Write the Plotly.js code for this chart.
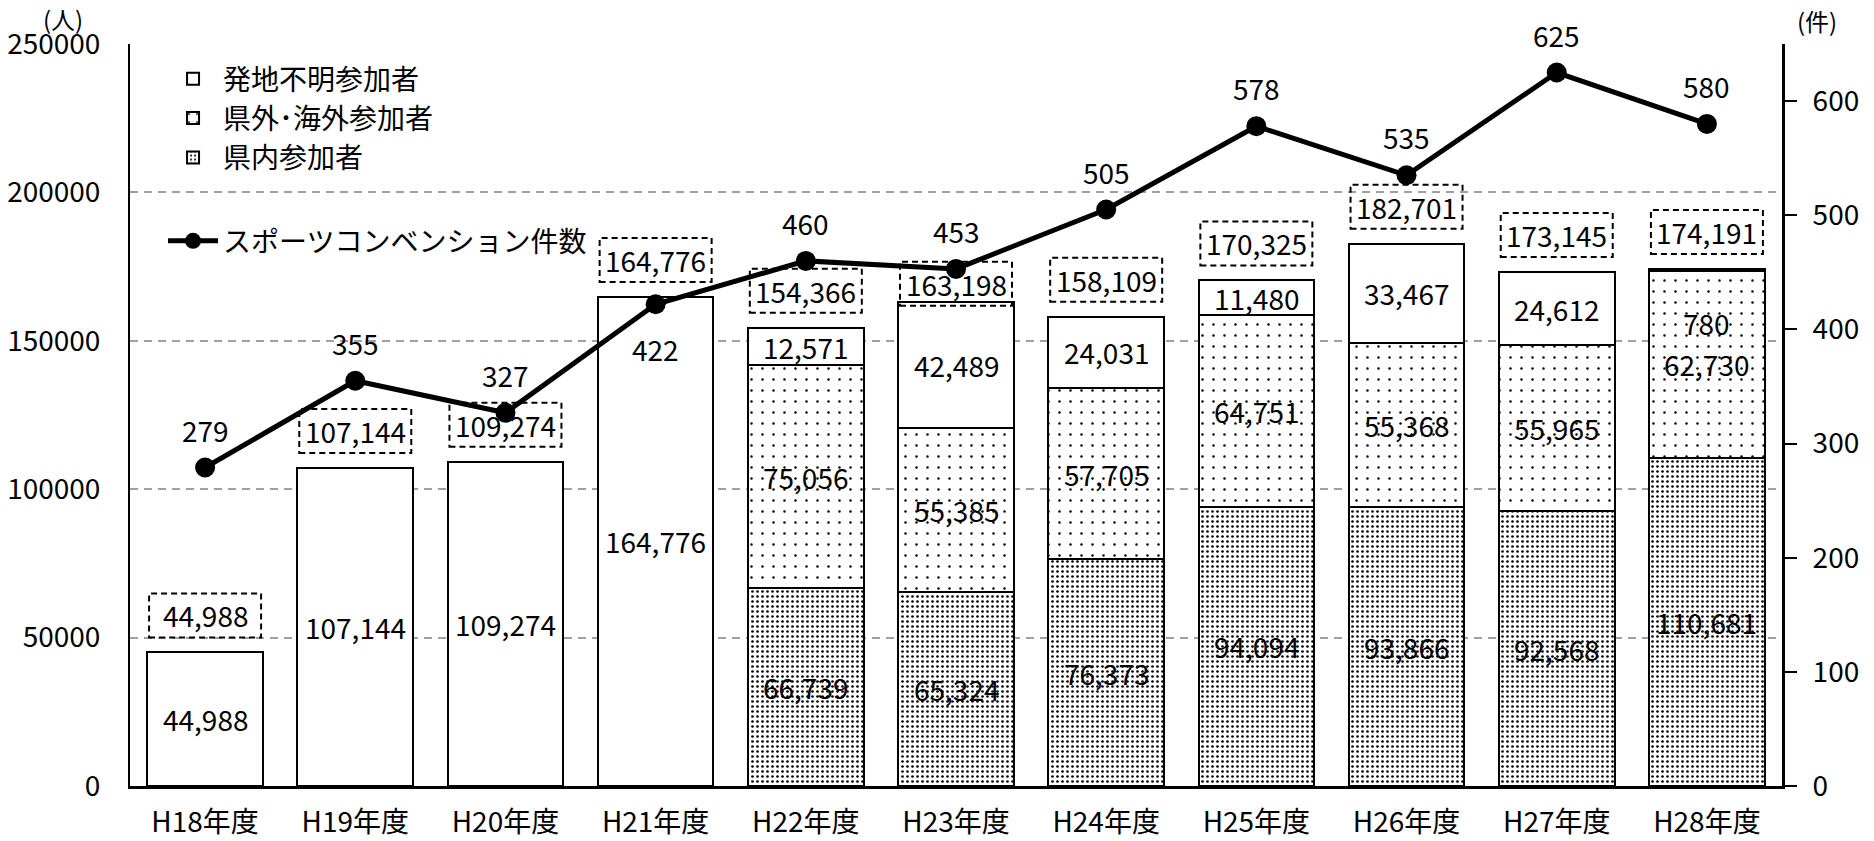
<!DOCTYPE html>
<html><head><meta charset="utf-8">
<script src="https://cdn.plot.ly/plotly-3.0.1.min.js"></script>
<style>html,body{margin:0;padding:0;background:#fff}#chart{width:1874px;height:841px}</style>
</head><body><div id="chart"></div>
<script>
const years = ['H18年度','H19年度','H20年度','H21年度','H22年度','H23年度','H24年度','H25年度','H26年度','H27年度','H28年度'];
const inPref  = [null, null, null, null, 66739, 65324, 76373, 94094, 93866, 92568, 110681];
const outPref = [null, null, null, null, 75056, 55385, 57705, 64751, 55368, 55965, 62730];
const unknown = [44988, 107144, 109274, 164776, 12571, 42489, 24031, 11480, 33467, 24612, 780];
const totals  = [44988, 107144, 109274, 164776, 154366, 163198, 158109, 170325, 182701, 173145, 174191];
const events  = [279, 355, 327, 422, 460, 453, 505, 578, 535, 625, 580];

const FONT = '"Noto Sans CJK JP", "Noto Sans", sans-serif';
const FS = 28;
const fmt = v => v.toLocaleString('en-US');

const barLine = {color: '#000', width: 2};
const traces = [
  {type: 'bar', name: '県内参加者', x: years, y: inPref, legend: 'legend',
   marker: {color: '#fff', line: barLine, pattern: {shape: '.', size: 5, solidity: 0.22, fgcolor: '#000', bgcolor: '#fff'}},
   hoverinfo: 'skip'},
  {type: 'bar', name: '県外･海外参加者', x: years, y: outPref, legend: 'legend',
   marker: {color: '#fff', line: barLine, pattern: {shape: '.', size: 11, solidity: 0.04, fgcolor: '#000', bgcolor: '#fff'}},
   hoverinfo: 'skip'},
  {type: 'bar', name: '発地不明参加者', x: years, y: unknown, legend: 'legend',
   marker: {color: '#fff', line: barLine}, hoverinfo: 'skip'},
  {type: 'scatter', mode: 'lines+markers', name: 'スポーツコンベンション件数', x: years, y: events,
   yaxis: 'y2', legend: 'legend2', line: {color: '#000', width: 5}, marker: {color: '#000', size: 20},
   hoverinfo: 'skip'}
];

const annotations = [];
const shapes = [];
// segment labels
years.forEach((yr, i) => {
  let base = 0;
  [inPref, outPref, unknown].forEach((arr, s) => {
    const v = arr[i];
    if (v == null) return;
    const shift = (s === 2 && v < 2000) ? -53 : 0;
    annotations.push({x: i, y: base + v / 2, xref: 'x', yref: 'y', text: fmt(v), showarrow: false,
      yshift: shift, font: {family: FONT, size: FS, color: '#000'}});
    base += v;
  });
});
// total boxes
const BOX_H = 44;
years.forEach((yr, i) => {
  const lift = (yr === 'H23年度') ? -4 : 15;
  shapes.push({type: 'rect', xref: 'x', yref: 'y', xsizemode: 'pixel', ysizemode: 'pixel',
    xanchor: i, yanchor: totals[i], x0: -56, x1: 56, y0: lift, y1: lift + BOX_H,
    line: {color: '#000', width: 2, dash: '6px,4px'}, fillcolor: 'rgba(0,0,0,0)', layer: 'above'});
  annotations.push({x: i, y: totals[i], xref: 'x', yref: 'y', text: fmt(totals[i]), showarrow: false,
    yshift: lift + BOX_H / 2, font: {family: FONT, size: FS, color: '#000'}});
});
// line labels
years.forEach((yr, i) => {
  const below = (yr === 'H21年度');
  annotations.push({x: i, y: events[i], xref: 'x', yref: 'y2', text: String(events[i]), showarrow: false,
    yshift: below ? -45 : 38, font: {family: FONT, size: FS, color: '#000'}});
});
// unit labels
annotations.push({xref: 'paper', yref: 'paper', x: -0.0406, y: 1.034, xanchor: 'center', yanchor: 'middle',
  text: '(人)', showarrow: false, font: {family: FONT, size: 24, color: '#000'}});
annotations.push({xref: 'paper', yref: 'paper', x: 1.0212, y: 1.031, xanchor: 'center', yanchor: 'middle',
  text: '(件)', showarrow: false, font: {family: FONT, size: 24, color: '#000'}});

const layout = {
  width: 1874, height: 841,
  margin: {l: 130, r: 92, t: 44, b: 55},
  paper_bgcolor: '#fff', plot_bgcolor: '#fff',
  font: {family: FONT, size: FS, color: '#000'},
  barmode: 'stack', bargap: 0.23,
  showlegend: true,
  xaxis: {type: 'category', range: [-0.5, 10.5], showline: true, linecolor: '#000', linewidth: 3,
    ticks: '', showgrid: false, zeroline: false, tickfont: {family: FONT, size: FS, color: '#000'},
    ticklabelstandoff: 9},
  yaxis: {range: [0, 250000], dtick: 50000, tickformat: 'd', showgrid: true, gridcolor: '#a0a0a0',
    griddash: '8px,6px', gridwidth: 2, showline: true, linecolor: '#000', linewidth: 2, ticks: '',
    zeroline: false, tickfont: {family: FONT, size: FS, color: '#000'}, ticklabelstandoff: 22},
  yaxis2: {overlaying: 'y', side: 'right', range: [0, 650], dtick: 100, showgrid: false, zeroline: false,
    showline: true, linecolor: '#000', linewidth: 3, ticks: 'outside', ticklen: 12, tickwidth: 2,
    tickcolor: '#000', tickfont: {family: FONT, size: FS, color: '#000'}, ticklabelstandoff: 10},
  yaxis3: {overlaying: 'y', side: 'right', range: [0, 650], dtick: 100, showgrid: false, zeroline: false,
    showline: false, ticks: 'inside', ticklen: 12, tickwidth: 2, tickcolor: '#000', showticklabels: false},
  legend: {x: 0.02, y: 0.9865, xanchor: 'left', yanchor: 'top', traceorder: 'reversed', itemwidth: 50,
    bgcolor: 'rgba(0,0,0,0)', font: {family: FONT, size: FS, color: '#000'}},
  legend2: {x: 0.02, y: 0.768, xanchor: 'left', yanchor: 'top', itemwidth: 50,
    bgcolor: 'rgba(0,0,0,0)', font: {family: FONT, size: FS, color: '#000'}},
  annotations: annotations,
  shapes: shapes
};

Plotly.newPlot('chart', traces, layout, {staticPlot: true, displayModeBar: false});
</script>
</body></html>
